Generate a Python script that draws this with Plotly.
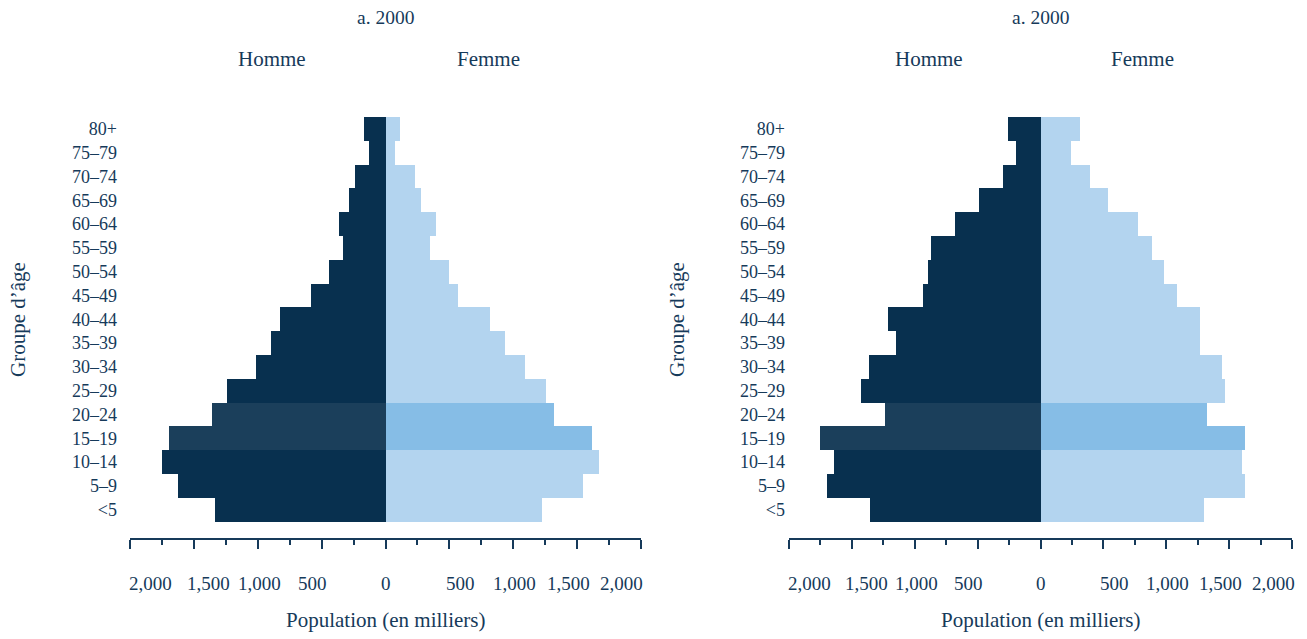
import plotly.graph_objects as go

# age groups, bottom to top
ages = ["<5", "5\u20139", "10\u201314", "15\u201319", "20\u201324", "25\u201329", "30\u201334",
        "35\u201339", "40\u201344", "45\u201349", "50\u201354", "55\u201359", "60\u201364",
        "65\u201369", "70\u201374", "75\u201379", "80+"]

# population in thousands
homme_a = [1334, 1624, 1749, 1694, 1357, 1240, 1013, 896, 826, 583, 442, 333, 364, 286, 239, 129, 168]
femme_a = [1225, 1545, 1670, 1616, 1318, 1256, 1092, 935, 818, 567, 497, 348, 395, 278, 231, 74, 114]

homme_b = [1355, 1697, 1642, 1753, 1236, 1427, 1363, 1149, 1212, 934, 894, 870, 680, 489, 298, 195, 258]
femme_b = [1300, 1626, 1602, 1626, 1324, 1467, 1443, 1268, 1268, 1085, 982, 886, 775, 537, 393, 242, 314]

highlight = ["15\u201319", "20\u201324"]
tick_text = ["2,000", "1,500", "1,000", "500", "0", "500", "1,000", "1,500", "2,000"]
tick_pos = [-1840, -1385, -990, -575, 0, 590, 1010, 1430, 1850]

W, H = 1307, 639
TXT = "#163a5a"
FONT = "Liberation Serif"
M_DARK, M_HI = "#08304f", "#1b3f5b"
F_LIGHT, F_HI = "#b3d4ef", "#86bde6"


def px(x):
    return x / W


def py(y):
    return 1 - y / H


fig = go.Figure()
panels = [
    ("x", "y", homme_a, femme_a, "a. 2000", (130, 641), 12),
    ("x2", "y2", homme_b, femme_b, "a. 2000", (789, 1292), 3),
]

ann = []


def label(text, x, xref, y, size, **kw):
    ann.append(dict(text=text, x=x, xref=xref, y=y, yref="paper", showarrow=False,
                    xanchor="center", yanchor="middle",
                    font=dict(family=FONT, size=size, color=TXT), **kw))


for xa, ya, hom, fem, title, (x0, x1), standoff in panels:
    m_cols = [M_HI if a in highlight else M_DARK for a in ages]
    f_cols = [F_HI if a in highlight else F_LIGHT for a in ages]
    fig.add_trace(go.Bar(y=ages, x=[-v for v in hom], orientation="h", xaxis=xa, yaxis=ya,
                         marker=dict(color=m_cols, line=dict(width=0)), showlegend=False,
                         customdata=hom, hovertemplate="%{y}: %{customdata}<extra>Homme</extra>"))
    fig.add_trace(go.Bar(y=ages, x=fem, orientation="h", xaxis=xa, yaxis=ya,
                         marker=dict(color=f_cols, line=dict(width=0)), showlegend=False,
                         hovertemplate="%{y}: %{x}<extra>Femme</extra>"))
    xname = "xaxis" if xa == "x" else "xaxis2"
    yname = "yaxis" if ya == "y" else "yaxis2"
    fig.layout[xname] = dict(domain=[px(x0), px(x1)], range=[-2000, 2000], anchor=ya,
                             showgrid=False, zeroline=False, showticklabels=False,
                             showline=True, linecolor=TXT, linewidth=2,
                             ticks="outside", tickvals=list(range(-2000, 2001, 500)),
                             ticklen=9, tickwidth=2, tickcolor=TXT,
                             minor=dict(tickvals=list(range(-1750, 2000, 500)), ticklen=5,
                                        tickwidth=2, tickcolor=TXT, ticks="outside"),
                             fixedrange=True)
    fig.layout[yname] = dict(domain=[py(538), py(117)], anchor=xa, type="category",
                             categoryorder="array", categoryarray=ages,
                             range=[-1.19, 16.5], showgrid=False, zeroline=False,
                             showline=False, ticks="", ticklabelstandoff=standoff,
                             tickfont=dict(family=FONT, size=18, color=TXT), fixedrange=True)
    for t, p in zip(tick_text, tick_pos):
        label(t, p, xa, py(583), 19)
    label("Population (en milliers)", 0, xa, py(620), 21)
    label(title, 0, xa, py(17), 19.5)
    label("Homme", -890, xa, py(59), 21)
    label("Femme", 810, xa, py(59), 21)
    label("Groupe d\u2019\u00e2ge", px(x0 - 112), "paper", py(320), 21, textangle=-90)

fig.update_layout(width=W, height=H, margin=dict(l=0, r=0, t=0, b=0),
                  barmode="relative", bargap=0, plot_bgcolor="white", paper_bgcolor="white",
                  annotations=ann)

# drop the default page margin so the figure fills the window exactly
fig.write_html("out.html", config={"displayModeBar": False},
               post_script="document.body.style.margin='0';")
